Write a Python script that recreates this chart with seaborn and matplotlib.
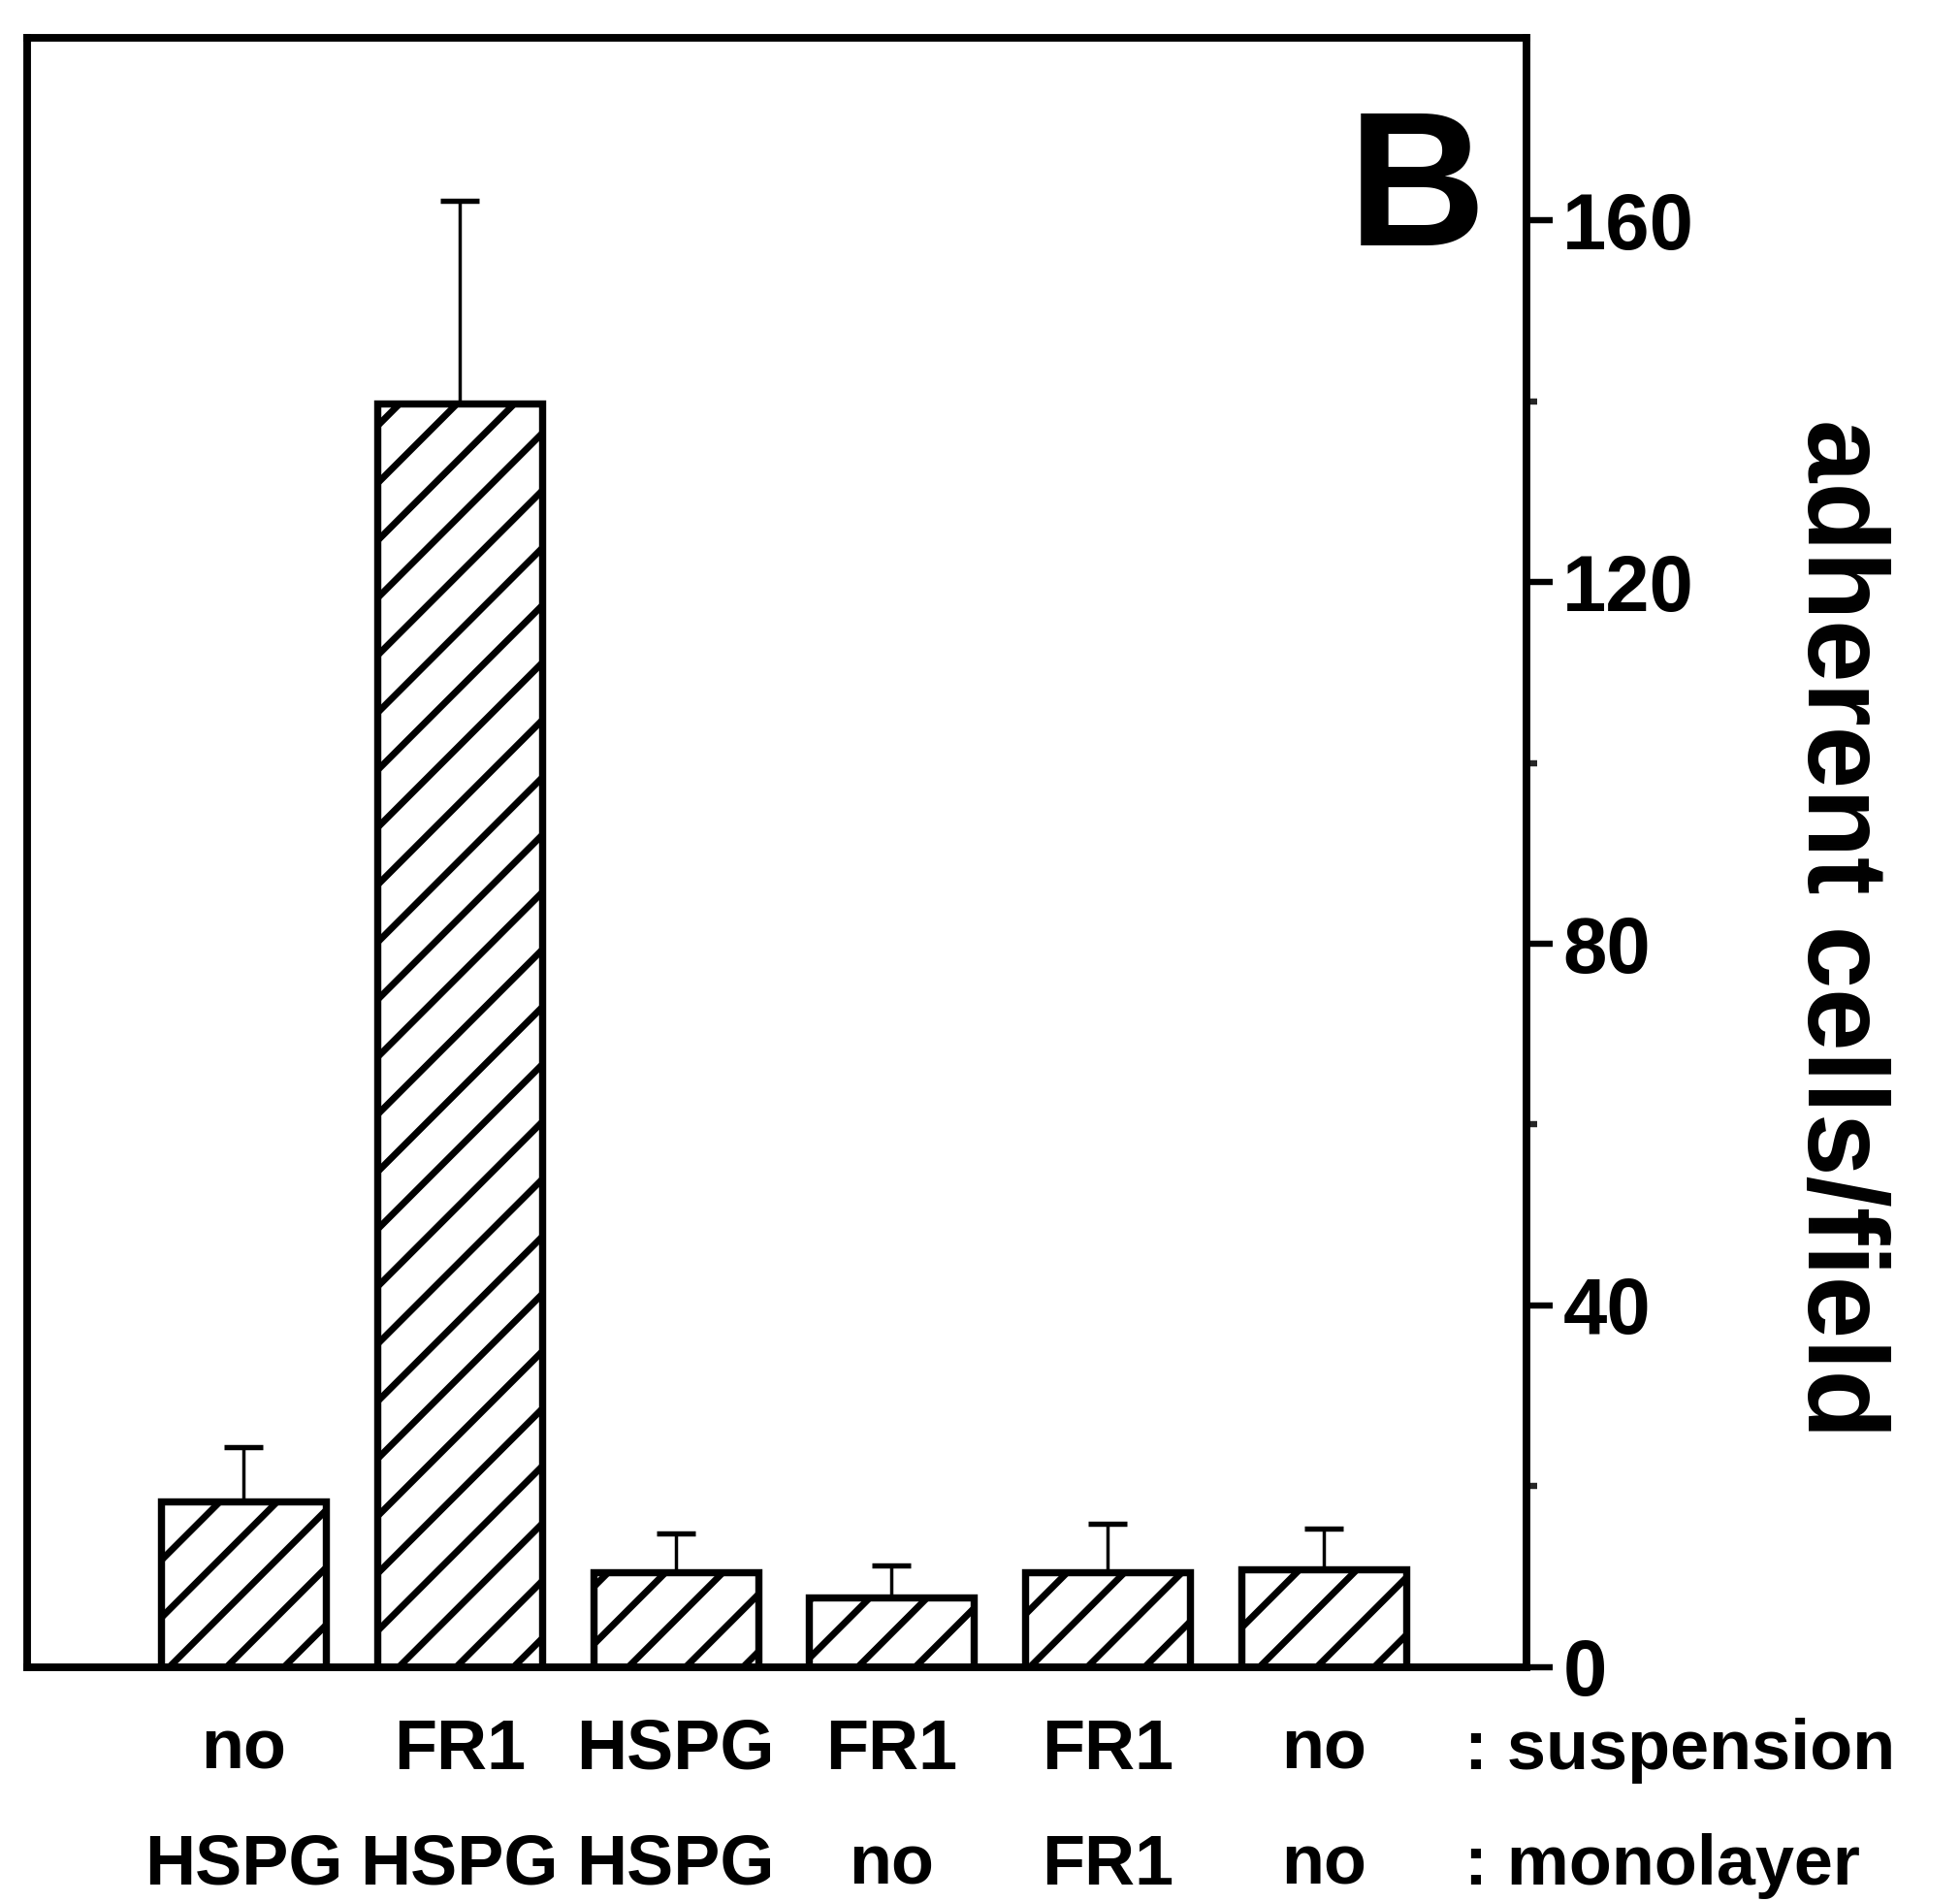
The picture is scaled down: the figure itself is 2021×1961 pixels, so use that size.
import numpy as np
import pandas as pd
import matplotlib
matplotlib.use("Agg")
import matplotlib.pyplot as plt
import matplotlib.transforms as mtransforms
from matplotlib.ticker import MultipleLocator, FixedLocator
import seaborn as sns

# values
suspension = ['no', 'FR1', 'HSPG', 'FR1', 'FR1', 'no']
monolayer = ['HSPG', 'HSPG', 'HSPG', 'no', 'FR1', 'no']
cells = [18.3, 139.8, 10.5, 7.7, 10.5, 10.8]
err = [6.0, 22.4, 4.3, 3.5, 5.3, 4.5]

df = pd.DataFrame({'suspension': suspension, 'monolayer': monolayer,
                   'cells': cells, 'err': err})
df['key'] = df['suspension'] + '/' + df['monolayer'] + '/' + df.index.astype(str)

DPI = 355  # also sets the hatch spacing

sns.set_theme(style="ticks")
plt.rcParams['font.family'] = ['Liberation Sans', 'DejaVu Sans']
plt.rcParams['font.weight'] = 'bold'
plt.rcParams['hatch.linewidth'] = 1.4
plt.rcParams['hatch.color'] = 'black'

fig, ax = plt.subplots(figsize=(2021 / DPI, 1961 / DPI), dpi=DPI)
fig.subplots_adjust(left=0.014, right=0.779, top=0.980, bottom=0.1236)

sns.barplot(data=df, x='key', y='cells', color='white', edgecolor='black',
            linewidth=1.5, width=0.763, hatch='//', saturation=1, ax=ax)

xpos = np.arange(len(df))
ax.errorbar(xpos, df['cells'], yerr=[np.zeros(len(df)), df['err']], fmt='none',
            ecolor='black', elinewidth=0.7, capsize=4, capthick=1.1, zorder=5)

ax.set_xlim(-1.0, 5.94)
ax.set_ylim(0, 180.2)

for s in ax.spines.values():
    s.set_visible(True)
    s.set_linewidth(1.6)
    s.set_color('black')

ax.yaxis.tick_right()
ax.yaxis.set_major_locator(MultipleLocator(40))
ax.yaxis.set_minor_locator(FixedLocator([20, 60, 100, 140]))
ax.tick_params(axis='y', which='major', direction='out', length=5.5, width=1.3,
               pad=2, labelsize=16.5, colors='black')
ax.tick_params(axis='y', which='minor', direction='out', length=2.3, width=1.3)
for lab in ax.get_yticklabels():
    lab.set_fontweight('bold')

ax.tick_params(axis='x', length=0, labelbottom=False)
ax.set_xlabel('')
ax.set_ylabel('adherent cells/field', rotation=-90, fontsize=23.5, fontweight='bold',
              va='center', ha='center', color='black')
ax.yaxis.set_label_coords(1.207, 0.4536)

# two rows of condition labels under the bars
trans = mtransforms.blended_transform_factory(ax.transData, ax.transAxes)
for i, (s, m) in enumerate(zip(suspension, monolayer)):
    ax.text(xpos[i], -0.0514, s, transform=trans, ha='center', va='center',
            fontsize=14.6, fontweight='bold', color='black')
    ax.text(xpos[i], -0.122, m, transform=trans, ha='center', va='center',
            fontsize=14.6, fontweight='bold', color='black')
ax.text(5.65, -0.0514, ': suspension', transform=trans, ha='left', va='center',
        fontsize=14.6, fontweight='bold', color='black')
ax.text(5.65, -0.122, ': monolayer', transform=trans, ha='left', va='center',
        fontsize=14.6, fontweight='bold', color='black')

ax.text(0.973, 0.958, 'B', transform=ax.transAxes, ha='right', va='top',
        fontsize=40, fontweight='bold', color='black')

fig.savefig('out.png', dpi=DPI)
